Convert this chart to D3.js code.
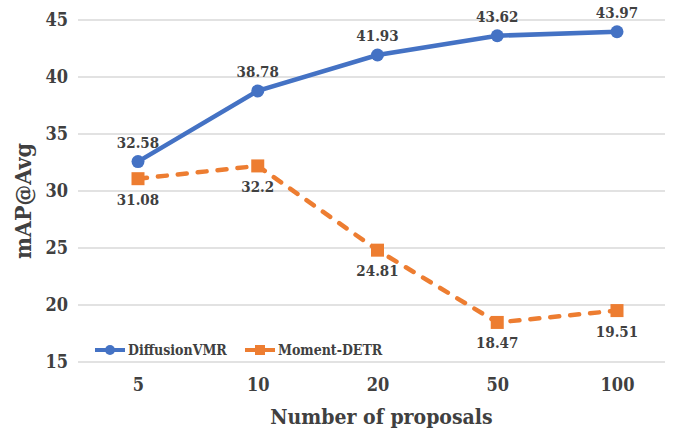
<!DOCTYPE html>
<html><head><meta charset="utf-8">
<script src="https://cdn.jsdelivr.net/npm/d3@7"></script>
<style>body{margin:0;background:#fff}svg{display:block}</style>
</head><body><svg id="c" width="675" height="430"></svg>
<script>
const categories = ["5","10","20","50","100"];
const diffusionVMR = [32.58,38.78,41.93,43.62,43.97];
const momentDETR = [31.08,32.2,24.81,18.47,19.51];
const yTicks = [15,20,25,30,35,40,45];
const seriesNames = ["DiffusionVMR","Moment-DETR"];

const FONT = "'DejaVu Serif Condensed', 'DejaVu Serif', serif";
const svg = d3.select("#c");
const x = d3.scalePoint().domain(categories).range([138,617]);
const y = d3.scaleLinear().domain([15,45]).range([362,20]);
const gridL = 78, gridR = 665;

function styleText(sel, size){
  sel.style("font-family",FONT).style("font-stretch","condensed").style("font-weight","bold").style("font-size",size+"px").style("fill","#404040");
}

svg.append("g").selectAll("line").data(yTicks).join("line")
  .attr("x1",gridL).attr("x2",gridR).attr("y1",d=>y(d)).attr("y2",d=>y(d))
  .attr("stroke","#d9d9d9").attr("stroke-width",1.3);

const yAxis = svg.append("g").attr("transform",`translate(${gridL-10},0)`)
  .call(d3.axisLeft(y).tickValues(yTicks).tickSize(0).tickPadding(0));
yAxis.select(".domain").remove();
styleText(yAxis.selectAll("text"),18);

const xAxis = svg.append("g").attr("transform",`translate(0,${y(15)})`)
  .call(d3.axisBottom(x).tickSize(0).tickPadding(16));
xAxis.select(".domain").remove();
styleText(xAxis.selectAll("text"),18);

styleText(svg.append("text").attr("x",(gridL+gridR)/2+10).attr("y",424).attr("text-anchor","middle")
  .text("Number of proposals"),21);
styleText(svg.append("text").attr("transform","translate(31,201) rotate(-90)").attr("text-anchor","middle")
  .text("mAP@Avg"),23);

const line = d3.line().x((d,i)=>x(categories[i])).y(d=>y(d));
const blue="#4472C4", orange="#ED7D31";

svg.append("path").datum(momentDETR).attr("d",line).attr("fill","none")
  .attr("stroke",orange).attr("stroke-width",4.5).attr("stroke-linecap","round").attr("stroke-dasharray","9,11");
svg.append("g").selectAll("rect").data(momentDETR).join("rect")
  .attr("x",(d,i)=>x(categories[i])-6.5).attr("y",d=>y(d)-6.5).attr("width",13).attr("height",13).attr("fill",orange);

svg.append("path").datum(diffusionVMR).attr("d",line).attr("fill","none")
  .attr("stroke",blue).attr("stroke-width",4.5);
svg.append("g").selectAll("circle").data(diffusionVMR).join("circle")
  .attr("cx",(d,i)=>x(categories[i])).attr("cy",d=>y(d)).attr("r",6.5).attr("fill",blue);

styleText(svg.append("g").selectAll("text").data(diffusionVMR).join("text")
  .attr("x",(d,i)=>x(categories[i])).attr("y",d=>y(d)-14).attr("text-anchor","middle")
  .text(d=>d),15);
styleText(svg.append("g").selectAll("text").data(momentDETR).join("text")
  .attr("x",(d,i)=>x(categories[i])).attr("y",d=>y(d)+26).attr("text-anchor","middle")
  .text(d=>d),15);

// legend
const lg = svg.append("g");
const legX = [95,245], legY = 350, cols=[blue,orange];
seriesNames.forEach((n,i)=>{
  const g = lg.append("g").attr("transform",`translate(${legX[i]},${legY})`);
  g.append("line").attr("x1",0).attr("x2",30).attr("stroke",cols[i]).attr("stroke-width",4);
  if(i===0) g.append("circle").attr("cx",15).attr("r",5).attr("fill",cols[i]);
  else g.append("rect").attr("x",10).attr("y",-5).attr("width",10).attr("height",10).attr("fill",cols[i]);
  styleText(g.append("text").attr("x",33).attr("y",5).text(n),14);
});
</script></body></html>
